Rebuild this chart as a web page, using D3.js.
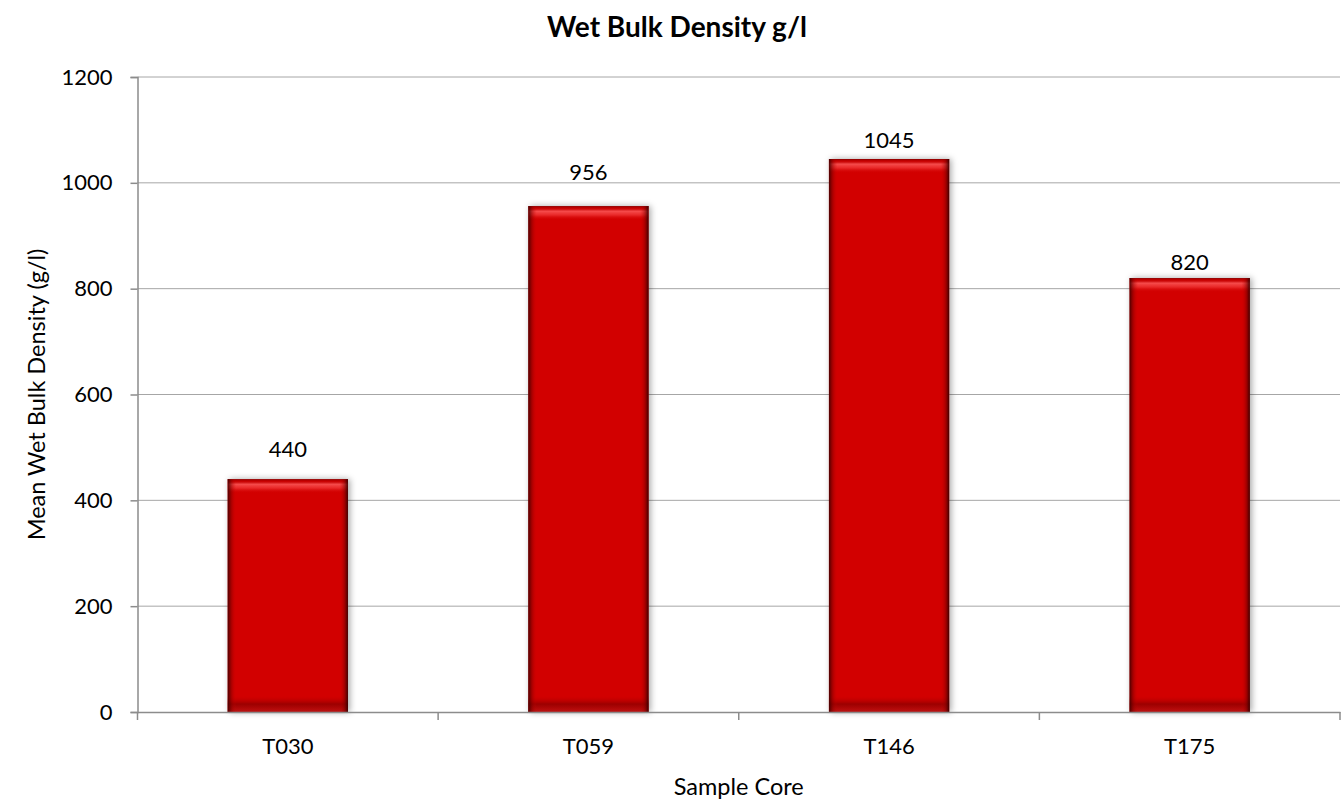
<!DOCTYPE html>
<html><head><meta charset="utf-8">
<script src="https://cdn.jsdelivr.net/npm/d3@7"></script>
<style>body{margin:0;background:#fff;} text{font-family:Lato,"Open Sans",sans-serif;}</style>
</head><body>
<svg id="c" width="1344" height="804"></svg>
<script>
const categories = ["T030","T059","T146","T175"];
const values = [440, 956, 1045, 820];
const yTicks = [0,200,400,600,800,1000,1200];
const title = "Wet Bulk Density g/l";
const xTitle = "Sample Core";
const yTitle = "Mean Wet Bulk Density (g/l)";
// label gap above each bar (styling, px)
const labelGap = [22, 26, 11, 8];

const svg = d3.select("#c");
const L=137.5, R=1340, T=77, B=712;
const x = d3.scaleBand().domain(categories).range([L,R]).padding(0);
const y = d3.scaleLinear().domain([0,1200]).range([B,T]);
const bw = x.bandwidth()*0.4;
const FF = "Lato,'Open Sans',sans-serif";

const defs = svg.append("defs");
const gh = defs.append("linearGradient").attr("id","gh").attr("x1",0).attr("x2",1).attr("y1",0).attr("y2",0);
[[0,"#3a0000",0.9],[0.03,"#7a0000",0.5],[0.07,"#cc0000",0],[0.93,"#cc0000",0],[0.97,"#7a0000",0.5],[1,"#2a0000",0.9]]
 .forEach(([o,c,a])=>gh.append("stop").attr("offset",o).attr("stop-color",c).attr("stop-opacity",a));
const f = defs.append("filter").attr("id","sh").attr("x","-10%").attr("y","-5%").attr("width","120%").attr("height","110%");
f.append("feDropShadow").attr("dx",2).attr("dy",0).attr("stdDeviation",3).attr("flood-color","#000").attr("flood-opacity",0.35);

// gridlines
svg.append("g").selectAll("line").data(yTicks.filter(d=>d>0)).join("line")
 .attr("x1",L).attr("x2",R).attr("y1",d=>y(d)).attr("y2",d=>y(d))
 .attr("stroke","#a6a6a6").attr("stroke-width",1);

// bars
const g = svg.append("g").selectAll("g").data(categories.map((c,i)=>({c,v:values[i],gap:labelGap[i]}))).join("g");
g.each(function(d){
  const s=d3.select(this);
  const x0 = x(d.c)+x.bandwidth()/2-bw/2, y0=y(d.v), h=B-y0;
  s.append("rect").attr("x",x0).attr("y",y0).attr("width",bw).attr("height",h).attr("fill","#d20000").attr("filter","url(#sh)");
  const id="gv"+d.c;
  const gv=defs.append("linearGradient").attr("id",id).attr("x1",0).attr("x2",0).attr("gradientUnits","userSpaceOnUse")
    .attr("y1",y0).attr("y2",B);
  const stops=[[0,"#700000",0.8],[2/h,"#b00000",0.3],[5/h,"#ff6060",0.8],[9/h,"#ff5050",0.5],[14/h,"#d00000",0],[(h-16)/h,"#c00000",0],[(h-8)/h,"#700000",0.55],[(h-3)/h,"#a01010",0.6],[1,"#b02020",0.7]];
  stops.forEach(([o,c,a])=>gv.append("stop").attr("offset",o).attr("stop-color",c).attr("stop-opacity",a));
  s.append("rect").attr("x",x0).attr("y",y0).attr("width",bw).attr("height",h).attr("fill",`url(#${id})`);
  s.append("rect").attr("x",x0).attr("y",y0).attr("width",bw).attr("height",h).attr("fill","url(#gh)");
  s.append("text").attr("x",x0+bw/2).attr("y",y0-d.gap).attr("text-anchor","middle").attr("font-size",22).attr("fill","#000").text(d.v);
});

// axes
const ax = svg.append("g").attr("transform",`translate(0,${B})`)
 .call(d3.axisBottom(x).tickSize(0).tickPadding(26));
ax.select(".domain").attr("stroke","#8c8c8c").attr("stroke-width",1.5);
ax.selectAll("text").attr("font-size",22).attr("fill","#000").attr("font-family",FF);
svg.append("g").selectAll("line").data(d3.range(categories.length+1)).join("line")
 .attr("x1",i=>L+i*x.step()).attr("x2",i=>L+i*x.step()).attr("y1",B).attr("y2",B+8).attr("stroke","#8c8c8c").attr("stroke-width",1.5);

const ay = svg.append("g").attr("transform",`translate(${L},0)`)
 .call(d3.axisLeft(y).tickValues(yTicks).tickFormat(d3.format("d")).tickSize(7).tickPadding(18));
ay.select(".domain").attr("stroke","#8c8c8c").attr("stroke-width",1.5);
ay.selectAll("line").attr("stroke","#8c8c8c").attr("stroke-width",1.5);
ay.selectAll("text").attr("font-size",22).attr("fill","#000").attr("font-family",FF);

svg.append("text").attr("x",677).attr("y",37).attr("text-anchor","middle").attr("font-size",28).attr("font-weight","bold").text(title);
svg.append("text").attr("x",(L+R)/2).attr("y",795).attr("text-anchor","middle").attr("font-size",23.5).text(xTitle);
svg.append("text").attr("transform",`translate(45,${(T+B)/2}) rotate(-90)`).attr("text-anchor","middle").attr("font-size",23.5).text(yTitle);
</script>
</body></html>
